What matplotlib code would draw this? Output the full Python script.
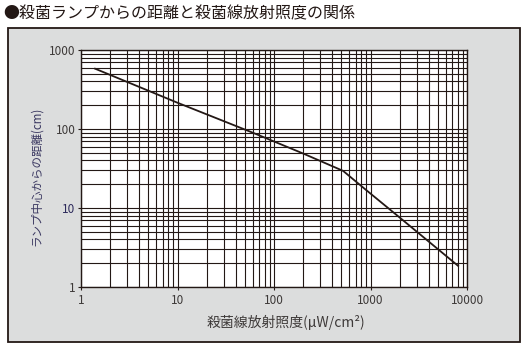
import matplotlib.pyplot as plt
from matplotlib.patches import Rectangle
from matplotlib.ticker import LogLocator, NullFormatter

plt.rcParams['font.family'] = ['Noto Sans CJK JP', 'DejaVu Sans']

# data
irradiance = [1.4, 10, 60, 200, 520, 880, 2000, 8100]   # uW/cm2
distance = [580, 215, 90, 49, 29.5, 17.3, 7.6, 1.85]     # cm
xticks = [1, 10, 100, 1000, 10000]
xlabels = ['1', '10', '100', '1000', '10000']
yticks = [1, 10, 100, 1000]
ylabels = ['1', '10', '100', '1000']

title = '●殺菌ランプからの距離と殺菌線放射照度の関係'
xtitle = '殺菌線放射照度(μW/cm²)'
ytitle = 'ランプ中心からの距離(cm)'

ink = '#231815'
txt = '#3e3a39'

W, H = 529, 352
fig = plt.figure(figsize=(W / 100, H / 100), dpi=100)

# gray panel behind the chart
panel = Rectangle((8 / W, 1 - 342 / H), 512 / W, 314 / H,
                  transform=fig.transFigure, facecolor='#dcdddd',
                  edgecolor=ink, linewidth=1.3, zorder=-10)
fig.add_artist(panel)

fig.text(3 / W, 1 - 14 / H, title, fontsize=11.5, color=ink, va='center', ha='left')

ax = fig.add_axes([81 / W, 1 - 287 / H, 386 / W, 237 / H])
ax.set_zorder(1)
ax.set_facecolor('white')
ax.set_xscale('log')
ax.set_yscale('log')
ax.set_xlim(1, 10000)
ax.set_ylim(1, 1000)

ax.xaxis.set_minor_locator(LogLocator(base=10, subs=range(2, 10)))
ax.yaxis.set_minor_locator(LogLocator(base=10, subs=range(2, 10)))
ax.xaxis.set_minor_formatter(NullFormatter())
ax.yaxis.set_minor_formatter(NullFormatter())
ax.set_xticks(xticks)
ax.set_xticklabels(xlabels)
ax.set_yticks(yticks)
ax.set_yticklabels(ylabels)
ax.grid(True, which='both', color=ink, linewidth=0.8)
ax.set_axisbelow(True)

ax.tick_params(which='major', length=2, width=0.8, color=ink, labelsize=8.5,
               labelcolor=txt, pad=2)
ax.tick_params(which='minor', length=0)
ax.tick_params(axis='x', pad=3)
ax.get_yticklabels()[1].set_color('#2e2b5c')
for s in ax.spines.values():
    s.set_color(ink)
    s.set_linewidth(1.0)

ax.plot(irradiance, distance, color=ink, linewidth=1.3, zorder=3)

fig.text(286 / W, 1 - 322 / H, xtitle, fontsize=10, color=txt, ha='center', va='center')
fig.text(36 / W, 1 - 176 / H, ytitle, fontsize=8.3, color='#3a3760', ha='center',
         va='center', rotation=90)

fig.savefig('out.png', dpi=100)
